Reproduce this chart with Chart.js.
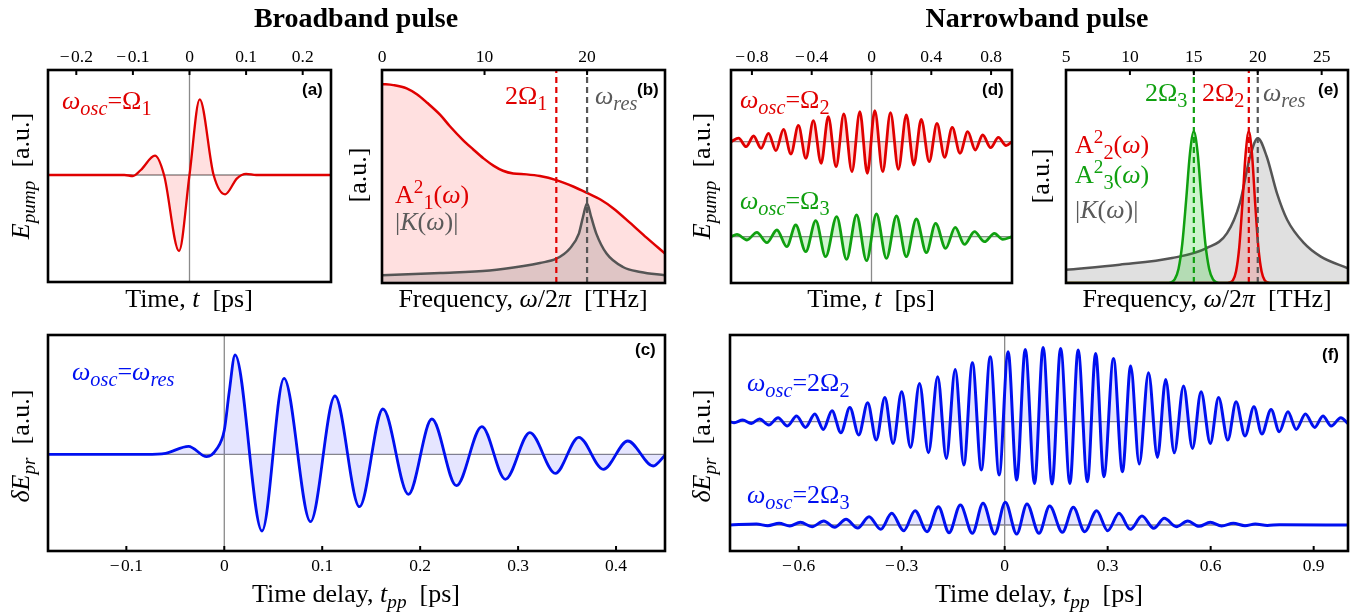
<!DOCTYPE html>
<html>
<head>
<meta charset="utf-8">
<script src="https://cdn.jsdelivr.net/npm/chart.js@4.4.1/dist/chart.umd.min.js"></script>
<style>
  body { margin: 0; width: 1364px; height: 616px; background: #fff; position: relative; overflow: hidden; font-family: "Liberation Serif", "Times New Roman", serif; }
  canvas { position: absolute; }
  .t { position: absolute; white-space: nowrap; line-height: 1; font-size: 26px; }
  .t sub { font-size: 0.78em; vertical-align: -0.3em; line-height: 0; }
  .t sup { font-size: 0.74em; vertical-align: 0.5em; line-height: 0; }
  .ttl { position: absolute; white-space: nowrap; line-height: 1; font-size: 28px; font-weight: bold; transform: translateX(-50%); }
  .ax { position: absolute; white-space: nowrap; line-height: 1; font-size: 26px; transform: translateX(-50%); }
  .ax sub { font-size: 0.74em; vertical-align: -0.3em; line-height: 0; }
  .yt { position: absolute; white-space: nowrap; line-height: 1; font-size: 26px; transform: translate(-50%, -50%) rotate(-90deg); }
  .yt sub { font-size: 0.74em; vertical-align: -0.3em; line-height: 0; }
  .pl { position: absolute; line-height: 1; font-family: "Liberation Sans", Arial, sans-serif; font-weight: bold; font-size: 17px; }
  .red { color: #e00000; } .grn { color: #10a010; } .gry { color: #5a5a5a; } .blu { color: #0010f0; }
</style>
</head>
<body>
<canvas id="cA"></canvas>
<canvas id="cB"></canvas>
<canvas id="cC"></canvas>
<canvas id="cD"></canvas>
<canvas id="cE"></canvas>
<canvas id="cF"></canvas>

<div class="ttl" style="left:356px; top:4px;">Broadband pulse</div>
<div class="ttl" style="left:1037px; top:4px;">Narrowband pulse</div>

<!-- (a) -->
<div class="t red" style="left:62px; top:88px;"><i>ω</i><sub><i>osc</i></sub>=Ω<sub>1</sub></div>
<div class="pl" style="left:302px; top:81px;">(a)</div>
<div class="ax" style="left:189px; top:286px;">Time, <i>t</i>&nbsp;&nbsp;[ps]</div>
<div class="yt" style="left:21px; top:176px;"><i>E</i><sub><i>pump</i></sub>&nbsp;&nbsp;[a.u.]</div>

<!-- (b) -->
<div class="t red" style="left:505px; top:83px;">2Ω<sub>1</sub></div>
<div class="t gry" style="left:595px; top:83px;"><i>ω</i><sub><i>res</i></sub></div>
<div class="pl" style="left:637px; top:81px;">(b)</div>
<div class="t red" style="left:395px; top:182px;">A<sup>2</sup><sub>1</sub>(<i>ω</i>)</div>
<div class="t gry" style="left:395px; top:209px;">|<i>K</i>(<i>ω</i>)|</div>
<div class="ax" style="left:523px; top:286px;">Frequency, <i>ω</i>/2<i>π</i>&nbsp;&nbsp;[THz]</div>
<div class="yt" style="left:358px; top:175px;">[a.u.]</div>

<!-- (c) -->
<div class="t blu" style="left:72px; top:359px;"><i>ω</i><sub><i>osc</i></sub>=<i>ω</i><sub><i>res</i></sub></div>
<div class="pl" style="left:635px; top:341px;">(c)</div>
<div class="ax" style="left:356px; top:581px;">Time delay, <i>t</i><sub><i>pp</i></sub>&nbsp;&nbsp;[ps]</div>
<div class="yt" style="left:21px; top:446px;"><i>δE</i><sub><i>pr</i></sub>&nbsp;&nbsp;[a.u.]</div>

<!-- (d) -->
<div class="t red" style="left:740px; top:87px;"><i>ω</i><sub><i>osc</i></sub>=Ω<sub>2</sub></div>
<div class="t grn" style="left:740px; top:188px;"><i>ω</i><sub><i>osc</i></sub>=Ω<sub>3</sub></div>
<div class="pl" style="left:982px; top:81px;">(d)</div>
<div class="ax" style="left:871px; top:286px;">Time, <i>t</i>&nbsp;&nbsp;[ps]</div>
<div class="yt" style="left:702px; top:176px;"><i>E</i><sub><i>pump</i></sub>&nbsp;&nbsp;[a.u.]</div>

<!-- (e) -->
<div class="t grn" style="left:1145px; top:80px;">2Ω<sub>3</sub></div>
<div class="t red" style="left:1202px; top:80px;">2Ω<sub>2</sub></div>
<div class="t gry" style="left:1263px; top:80px;"><i>ω</i><sub><i>res</i></sub></div>
<div class="pl" style="left:1318px; top:81px;">(e)</div>
<div class="t red" style="left:1075px; top:132px;">A<sup>2</sup><sub>2</sub>(<i>ω</i>)</div>
<div class="t grn" style="left:1075px; top:162px;">A<sup>2</sup><sub>3</sub>(<i>ω</i>)</div>
<div class="t gry" style="left:1075px; top:197px;">|<i>K</i>(<i>ω</i>)|</div>
<div class="ax" style="left:1207px; top:286px;">Frequency, <i>ω</i>/2<i>π</i>&nbsp;&nbsp;[THz]</div>
<div class="yt" style="left:1041px; top:176px;">[a.u.]</div>

<!-- (f) -->
<div class="t blu" style="left:747px; top:370px;"><i>ω</i><sub><i>osc</i></sub>=2Ω<sub>2</sub></div>
<div class="t blu" style="left:747px; top:482px;"><i>ω</i><sub><i>osc</i></sub>=2Ω<sub>3</sub></div>
<div class="pl" style="left:1322px; top:346px;">(f)</div>
<div class="ax" style="left:1039px; top:581px;">Time delay, <i>t</i><sub><i>pp</i></sub>&nbsp;&nbsp;[ps]</div>
<div class="yt" style="left:702px; top:446px;"><i>δE</i><sub><i>pr</i></sub>&nbsp;&nbsp;[a.u.]</div>

<script>
// (a) broadband pump field, t in ps
const tA = [-0.25, -0.115, -0.1, -0.086, -0.061, -0.045, -0.0185, 0, 0.018, 0.0426, 0.063, 0.084, 0.1, 0.118, 0.25];
const eA = [0, 0, -0.01, 0.05, 0.193, 0, -0.76, 0, 0.757, 0, -0.193, -0.033, 0.012, 0, 0];

// (b) spectrum A^2_1 and kernel |K|, f in THz
const fB = [0, 1.1, 2.4, 3.4, 4.4, 5.7, 6.6, 7.9, 8.9, 9.9, 10.9, 11.8, 12.8, 14.1, 15.4, 17.0, 18.7, 20.0, 21.3, 22.6, 24.2, 25.8, 27.6];
const a2B = [0.934, 0.929, 0.914, 0.886, 0.846, 0.788, 0.737, 0.671, 0.627, 0.585, 0.55, 0.527, 0.514, 0.51, 0.502, 0.483, 0.452, 0.423, 0.392, 0.349, 0.282, 0.213, 0.138];
const fKB = [0, 5.7, 10.5, 13.8, 15.4, 17.0, 18.3, 19.2, 19.6, 20.0, 20.4, 20.9, 21.9, 23.5, 25.2, 27.6];
const kB = [0.036, 0.047, 0.059, 0.08, 0.094, 0.114, 0.161, 0.232, 0.31, 0.373, 0.31, 0.232, 0.138, 0.075, 0.052, 0.036];
const markB = [17.0, 20.0];   // 2*Omega1, omega_res

// (c) probe response, broadband
const tC = [-0.18, -0.08, -0.06, -0.0365, -0.018, -0.008, 0, 0.005, 0.011, 0.0385, 0.061, 0.088, 0.113, 0.138, 0.162, 0.188, 0.212, 0.237, 0.263, 0.287, 0.312, 0.338, 0.362, 0.387, 0.412, 0.438, 0.45];
const sC = [0, 0, 0.01, 0.08, -0.024, 0.05, 0.24, 0.62, 0.993, -0.767, 0.76, -0.674, 0.583, -0.524, 0.453, -0.40, 0.353, -0.314, 0.277, -0.25, 0.217, -0.19, 0.17, -0.15, 0.133, -0.117, -0.01];

// (d) narrowband pump fields (Omega2 red, Omega3 green, shifted down)
const tD2 = [-0.94, -0.889, -0.839, -0.789, -0.739, -0.689, -0.639, -0.589, -0.539, -0.489, -0.439, -0.389, -0.337, -0.289, -0.237, -0.185, -0.131, -0.078, -0.028, 0.022, 0.075, 0.127, 0.18, 0.233, 0.283, 0.333, 0.386, 0.438, 0.489, 0.54, 0.592, 0.644, 0.694, 0.744, 0.797, 0.849, 0.9, 0.94];
const eD2 = [0, 0.035, -0.05, 0.057, -0.066, 0.083, -0.09, 0.123, -0.123, 0.163, -0.166, 0.21, -0.216, 0.25, -0.25, 0.277, -0.30, 0.30, -0.316, 0.31, -0.30, 0.29, -0.276, 0.267, -0.233, 0.223, -0.20, 0.183, -0.156, 0.143, -0.116, 0.10, -0.083, 0.067, -0.06, 0.043, -0.04, 0];
const tD3 = [-0.94, -0.90, -0.833, -0.767, -0.70, -0.633, -0.567, -0.507, -0.44, -0.373, -0.307, -0.233, -0.167, -0.10, -0.033, 0.033, 0.10, 0.167, 0.233, 0.30, 0.367, 0.429, 0.496, 0.56, 0.622, 0.689, 0.756, 0.822, 0.878, 0.94];
const eD3 = [0, 0.023, -0.033, 0.043, -0.06, 0.067, -0.10, 0.117, -0.15, 0.16, -0.20, 0.20, -0.227, 0.217, -0.24, 0.227, -0.217, 0.207, -0.20, 0.177, -0.16, 0.133, -0.117, 0.093, -0.077, 0.05, -0.05, 0.033, -0.027, 0];
const offD3 = -0.95;

// (e) narrow spectra and kernel
const fKE = [5, 9.2, 13.3, 16.0, 17.6, 18.6, 19.4, 20.0, 20.7, 21.5, 22.3, 23.6, 24.9, 27.1];
const kE = [0.062, 0.086, 0.117, 0.164, 0.234, 0.375, 0.594, 0.68, 0.594, 0.422, 0.297, 0.188, 0.125, 0.068];
const fE2 = [5, 17.5, 17.8, 18.05, 18.3, 18.55, 18.8, 19.05, 19.3, 19.55, 19.8, 20.05, 20.3, 20.55, 20.8, 21.1, 27.1];
const a2E2 = [0, 0, 0.003, 0.0125, 0.054, 0.166, 0.373, 0.605, 0.711, 0.605, 0.373, 0.166, 0.054, 0.0125, 0.003, 0, 0];
const fE3 = [5, 12.9, 13.2, 13.5, 13.8, 14.1, 14.4, 14.7, 15.0, 15.3, 15.6, 15.9, 16.2, 16.5, 16.8, 17.1, 27.1];
const a2E3 = [0, 0, 0.003, 0.017, 0.066, 0.186, 0.39, 0.61, 0.711, 0.61, 0.39, 0.186, 0.066, 0.017, 0.003, 0, 0];
const markE = [15.0, 19.3, 20.0];   // 2*Omega3, 2*Omega2, omega_res

// (f) probe responses, 2*Omega2 (top) and 2*Omega3 (shifted down)
const tF2 = [-0.8, -0.788, -0.763, -0.738, -0.714, -0.687, -0.66, -0.633, -0.606, -0.58, -0.553, -0.528, -0.503, -0.477, -0.451, -0.425, -0.399, -0.374, -0.349, -0.325, -0.3, -0.274, -0.248, -0.222, -0.195, -0.17, -0.144, -0.119, -0.094, -0.068, -0.042, -0.016, 0.01, 0.035, 0.06, 0.087, 0.112, 0.138, 0.163, 0.19, 0.214, 0.241, 0.265, 0.289, 0.317, 0.343, 0.367, 0.392, 0.419, 0.445, 0.469, 0.494, 0.521, 0.547, 0.572, 0.599, 0.623, 0.65, 0.674, 0.7, 0.726, 0.749, 0.776, 0.8, 0.825, 0.849, 0.876, 0.903, 0.927, 0.951, 0.979, 1.0];
const sF2 = [0, -0.01, 0.017, -0.017, 0.027, -0.033, 0.04, -0.043, 0.057, -0.057, 0.077, -0.077, 0.11, -0.11, 0.143, -0.133, 0.19, -0.183, 0.243, -0.217, 0.30, -0.257, 0.383, -0.31, 0.45, -0.367, 0.523, -0.433, 0.59, -0.483, 0.65, -0.533, 0.70, -0.583, 0.723, -0.617, 0.743, -0.623, 0.733, -0.617, 0.717, -0.60, 0.683, -0.55, 0.633, -0.50, 0.557, -0.423, 0.49, -0.357, 0.423, -0.31, 0.357, -0.267, 0.30, -0.217, 0.243, -0.183, 0.20, -0.143, 0.15, -0.123, 0.123, -0.10, 0.10, -0.077, 0.077, -0.057, 0.057, -0.043, 0.04, -0.02];
const tF3 = [-0.8, -0.723, -0.69, -0.657, -0.626, -0.595, -0.561, -0.527, -0.495, -0.462, -0.428, -0.395, -0.361, -0.329, -0.294, -0.261, -0.226, -0.193, -0.162, -0.129, -0.094, -0.063, -0.029, 0.002, 0.035, 0.065, 0.10, 0.131, 0.168, 0.20, 0.233, 0.268, 0.30, 0.333, 0.366, 0.40, 0.434, 0.465, 0.50, 0.533, 0.566, 0.599, 0.632, 0.666, 0.70, 0.73, 0.765, 0.8, 1.0];
const sF3 = [0, 0.01, -0.007, 0.017, -0.01, 0.027, -0.017, 0.04, -0.023, 0.057, -0.03, 0.083, -0.043, 0.117, -0.057, 0.143, -0.067, 0.183, -0.077, 0.20, -0.083, 0.217, -0.09, 0.227, -0.09, 0.21, -0.083, 0.19, -0.073, 0.177, -0.067, 0.143, -0.057, 0.117, -0.043, 0.09, -0.033, 0.067, -0.017, 0.04, -0.013, 0.027, -0.01, 0.017, -0.007, 0.01, -0.004, 0.003, 0];
const offF3 = -1.033;

// tick labels
const ticksA = [-0.2, -0.1, 0, 0.1, 0.2];
const ticksB = [0, 10, 20];
const ticksC = [-0.1, 0, 0.1, 0.2, 0.3, 0.4];
const ticksD = [-0.8, -0.4, 0, 0.4, 0.8];
const ticksE = [5, 10, 15, 20, 25];
const ticksF = [-0.6, -0.3, 0, 0.3, 0.6, 0.9];

const RED = "#e00000", GREEN = "#10a010", BLUE = "#0010f0", GRAY = "#555555";

function fmt(v) {
    return v < 0 ? "\u2212\u200a" + Math.abs(v) : String(v);
}

function xy(xs, ys, off) {
    return xs.map((x, i) => ({ x: x, y: ys[i] + (off || 0) }));
}

function curve(xs, ys, color, fillColor, width, off) {
    return {
        data: xy(xs, ys, off),
        borderColor: color,
        borderWidth: width,
        backgroundColor: fillColor,
        fill: { value: off || 0 },
        cubicInterpolationMode: "monotone",
        pointRadius: 0
    };
}

function marker(f, color, yr) {
    return {
        data: [{ x: f, y: yr[0] }, { x: f, y: yr[1] }],
        borderColor: color,
        borderWidth: 2.2,
        borderDash: [6, 4],
        fill: false,
        pointRadius: 0
    };
}

// frame, inner ticks and thin zero lines, Mathematica style
const decor = {
    id: "decor",
    beforeDatasetsDraw(chart, args, o) {
        const ctx = chart.ctx, a = chart.chartArea;
        const x = chart.scales.x, y = chart.scales.y;
        ctx.save();
        ctx.strokeStyle = "#8a8a8a";
        ctx.lineWidth = 1.3;
        ctx.beginPath();
        if (o.vline !== undefined) {
            const px = x.getPixelForValue(o.vline);
            ctx.moveTo(px, a.top); ctx.lineTo(px, a.bottom);
        }
        (o.hlines || []).forEach(v => {
            const py = y.getPixelForValue(v);
            ctx.moveTo(a.left, py); ctx.lineTo(a.right, py);
        });
        ctx.stroke();
        ctx.restore();
    },
    afterDraw(chart, args, o) {
        const ctx = chart.ctx, a = chart.chartArea, x = chart.scales.x;
        ctx.save();
        ctx.strokeStyle = "#000";
        ctx.lineWidth = 2;
        ctx.beginPath();
        x.ticks.forEach(t => {
            const px = x.getPixelForValue(t.value);
            if (x.position === "top") { ctx.moveTo(px, a.top); ctx.lineTo(px, a.top + 5); }
            else { ctx.moveTo(px, a.bottom); ctx.lineTo(px, a.bottom - 5); }
        });
        ctx.stroke();
        ctx.lineWidth = 2.6;
        ctx.strokeRect(a.left, a.top, a.right - a.left, a.bottom - a.top);
        ctx.restore();
    }
};

function panel(id, box, side, xr, yr, ticks, datasets, deco) {
    const padX = 25, axisH = 40, padE = 4;
    const cv = document.getElementById(id);
    const w = box.r - box.l + 2 * padX;
    const h = box.b - box.t + axisH + padE;
    cv.width = w; cv.height = h;
    cv.style.width = w + "px"; cv.style.height = h + "px";
    cv.style.left = (box.l - padX) + "px";
    cv.style.top = (side === "top" ? box.t - axisH : box.t - padE) + "px";

    return new Chart(cv, {
        type: "line",
        data: { datasets: datasets },
        options: {
            responsive: false,
            animation: false,
            layout: {
                autoPadding: false,
                padding: { left: padX, right: padX, top: side === "top" ? 0 : padE, bottom: side === "top" ? padE : 0 }
            },
            plugins: { legend: { display: false }, tooltip: { enabled: false }, decor: deco },
            scales: {
                x: {
                    type: "linear", position: side, min: xr[0], max: xr[1],
                    afterBuildTicks: s => { s.ticks = ticks.map(v => ({ value: v })); },
                    afterFit: s => { s.height = axisH; },
                    grid: { display: false, drawTicks: false },
                    border: { display: false },
                    ticks: {
                        font: { family: "Liberation Serif", size: 17.5 }, color: "#000",
                        padding: side === "top" ? 2 : 5, maxRotation: 0, autoSkip: false,
                        callback: v => fmt(v)
                    }
                },
                y: { display: false, min: yr[0], max: yr[1] }
            }
        },
        plugins: [decor]
    });
}

const yrA = [-1.07, 1.05], yrB = [0, 1], yrC = [-0.967, 1.193], yrD = [-1.413, 0.717], yrE = [0, 1], yrF = [-1.293, 0.867];

panel("cA", { l: 48, t: 70, r: 331, b: 282 }, "top", [-0.25, 0.25], yrA, ticksA, [
    curve(tA, eA, RED, "rgba(255,0,0,0.12)", 2.3)
], { vline: 0, hlines: [0] });

panel("cB", { l: 382, t: 70, r: 665, b: 283 }, "top", [0, 27.6], yrB, ticksB, [
    marker(markB[0], RED, yrB),
    marker(markB[1], GRAY, yrB),
    curve(fKB, kB, GRAY, "rgba(40,40,40,0.15)", 2.5),
    curve(fB, a2B, RED, "rgba(255,0,0,0.12)", 2.5)
], {});

panel("cC", { l: 48, t: 335, r: 665, b: 551 }, "bottom", [-0.18, 0.45], yrC, ticksC, [
    curve(tC, sC, BLUE, "rgba(0,0,255,0.1)", 2.8)
], { vline: 0, hlines: [0] });

panel("cD", { l: 731, t: 70, r: 1012, b: 283 }, "top", [-0.94, 0.94], yrD, ticksD, [
    curve(tD2, eD2, RED, "rgba(255,0,0,0.15)", 2.8),
    curve(tD3, eD3, GREEN, "rgba(0,200,0,0.18)", 2.8, offD3)
], { vline: 0, hlines: [0, offD3] });

panel("cE", { l: 1066, t: 70, r: 1348, b: 283 }, "top", [5, 27.06], yrE, ticksE, [
    marker(markE[0], GREEN, yrE),
    marker(markE[1], RED, yrE),
    marker(markE[2], GRAY, yrE),
    curve(fE3, a2E3, GREEN, "rgba(0,200,0,0.2)", 2.5),
    curve(fE2, a2E2, RED, "rgba(255,0,0,0.15)", 2.5),
    curve(fKE, kE, GRAY, "rgba(0,0,0,0.12)", 2.5)
], {});

panel("cF", { l: 730, t: 335, r: 1348, b: 551 }, "bottom", [-0.8, 1.0], yrF, ticksF, [
    curve(tF2, sF2, BLUE, "rgba(0,0,255,0.1)", 3),
    curve(tF3, sF3, BLUE, "rgba(0,0,255,0.1)", 3, offF3)
], { vline: 0, hlines: [0, offF3] });
</script>
</body>
</html>
